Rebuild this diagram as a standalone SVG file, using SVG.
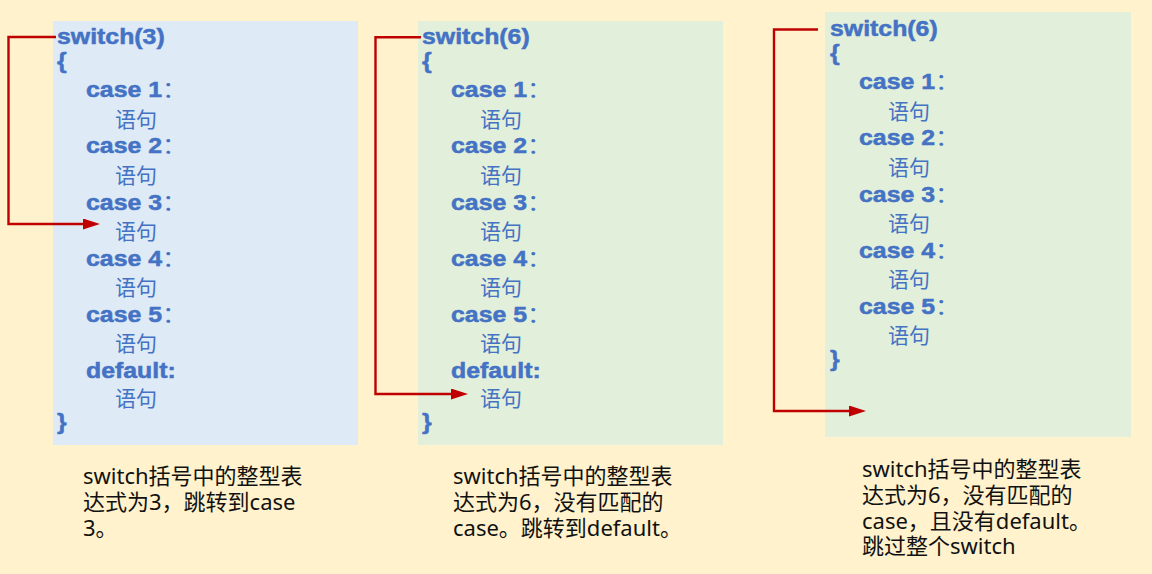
<svg xmlns="http://www.w3.org/2000/svg" width="1152" height="574" viewBox="0 0 1152 574">
<style>
.code{font-family:"Liberation Sans",Arial,sans-serif;font-weight:bold;font-size:22px;fill:#4472C4;stroke:#4472C4;stroke-width:0.5}
.col{font-family:"Noto Sans CJK SC",sans-serif;font-weight:normal;stroke:none}
.stmt{font-family:"Noto Sans CJK SC",sans-serif;font-size:21px;fill:#4472C4}
.cap{font-family:"Noto Sans","Noto Sans CJK SC",sans-serif;font-size:22px;fill:#111}
.conn{fill:none;stroke:#C00000;stroke-width:2.4}
</style>
<defs>
<marker id="ah" markerUnits="userSpaceOnUse" markerWidth="17" markerHeight="11" viewBox="0 0 17 11" refX="3" refY="5.5" orient="auto">
<path d="M0,0 L17,5.5 L0,11 z" fill="#C00000"/>
</marker>
</defs>
<rect width="1152" height="574" fill="#FFF2CC"/>
<g id="panel1">
<rect x="53" y="21" width="305" height="424" fill="#DEEAF6"/>
<text class="code" transform="translate(57,44) scale(1.13,1)">switch(3)</text>
<text class="code" transform="translate(57,68) scale(1.13,1)">{</text>
<text class="code" transform="translate(86,97) scale(1.13,1)">case 1<tspan class="col">：</tspan></text>
<text class="stmt" x="115" y="127">语句</text>
<text class="code" transform="translate(86,153) scale(1.13,1)">case 2<tspan class="col">：</tspan></text>
<text class="stmt" x="115" y="183">语句</text>
<text class="code" transform="translate(86,210) scale(1.13,1)">case 3<tspan class="col">：</tspan></text>
<text class="stmt" x="115" y="239">语句</text>
<text class="code" transform="translate(86,266) scale(1.13,1)">case 4<tspan class="col">：</tspan></text>
<text class="stmt" x="115" y="295">语句</text>
<text class="code" transform="translate(86,322) scale(1.13,1)">case 5<tspan class="col">：</tspan></text>
<text class="stmt" x="115" y="351">语句</text>
<text class="code" transform="translate(86,378) scale(1.13,1)">default:</text>
<text class="stmt" x="115" y="406">语句</text>
<text class="code" transform="translate(57,429) scale(1.13,1)">}</text>
</g>
<g id="panel2">
<rect x="418" y="21" width="305" height="424" fill="#E2EFDA"/>
<text class="code" transform="translate(422,44) scale(1.13,1)">switch(6)</text>
<text class="code" transform="translate(422,68) scale(1.13,1)">{</text>
<text class="code" transform="translate(451,97) scale(1.13,1)">case 1<tspan class="col">：</tspan></text>
<text class="stmt" x="480" y="127">语句</text>
<text class="code" transform="translate(451,153) scale(1.13,1)">case 2<tspan class="col">：</tspan></text>
<text class="stmt" x="480" y="183">语句</text>
<text class="code" transform="translate(451,210) scale(1.13,1)">case 3<tspan class="col">：</tspan></text>
<text class="stmt" x="480" y="239">语句</text>
<text class="code" transform="translate(451,266) scale(1.13,1)">case 4<tspan class="col">：</tspan></text>
<text class="stmt" x="480" y="295">语句</text>
<text class="code" transform="translate(451,322) scale(1.13,1)">case 5<tspan class="col">：</tspan></text>
<text class="stmt" x="480" y="351">语句</text>
<text class="code" transform="translate(451,378) scale(1.13,1)">default:</text>
<text class="stmt" x="480" y="406">语句</text>
<text class="code" transform="translate(422,429) scale(1.13,1)">}</text>
</g>
<g id="panel3">
<rect x="825" y="12" width="306" height="425" fill="#E2EFDA"/>
<text class="code" transform="translate(830,35.5) scale(1.13,1)">switch(6)</text>
<text class="code" transform="translate(830,59.5) scale(1.13,1)">{</text>
<text class="code" transform="translate(859,88.5) scale(1.13,1)">case 1<tspan class="col">：</tspan></text>
<text class="stmt" x="888" y="118.5">语句</text>
<text class="code" transform="translate(859,144.5) scale(1.13,1)">case 2<tspan class="col">：</tspan></text>
<text class="stmt" x="888" y="174.5">语句</text>
<text class="code" transform="translate(859,201.5) scale(1.13,1)">case 3<tspan class="col">：</tspan></text>
<text class="stmt" x="888" y="230.5">语句</text>
<text class="code" transform="translate(859,257.5) scale(1.13,1)">case 4<tspan class="col">：</tspan></text>
<text class="stmt" x="888" y="286.5">语句</text>
<text class="code" transform="translate(859,313.5) scale(1.13,1)">case 5<tspan class="col">：</tspan></text>
<text class="stmt" x="888" y="342.5">语句</text>
<text class="code" transform="translate(830,366) scale(1.13,1)">}</text>
</g>
<g id="connectors">
<path class="conn" d="M56,37 H8.5 V224 H86" marker-end="url(#ah)"/>
<path class="conn" d="M421,37.3 H375.5 V394 H454" marker-end="url(#ah)"/>
<path class="conn" d="M818,29.5 H774 V411 H852" marker-end="url(#ah)"/>
</g>
<g id="caption1">
<text class="cap" x="83" y="484">switch括号中的整型表</text>
<text class="cap" x="83" y="510">达式为3，跳转到case</text>
<text class="cap" x="83" y="536">3。</text>
</g>
<g id="caption2">
<text class="cap" x="453" y="484">switch括号中的整型表</text>
<text class="cap" x="453" y="510">达式为6，没有匹配的</text>
<text class="cap" x="453" y="536">case。跳转到default。</text>
</g>
<g id="caption3">
<text class="cap" x="862" y="477">switch括号中的整型表</text>
<text class="cap" x="862" y="503">达式为6，没有匹配的</text>
<text class="cap" x="862" y="529">case，且没有default。</text>
<text class="cap" x="862" y="554">跳过整个switch</text>
</g>
</svg>
